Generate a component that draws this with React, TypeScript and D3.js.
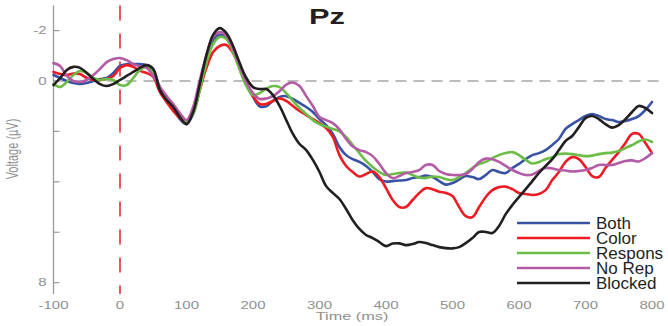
import React from "react";
import * as d3 from "d3";

// ERP time axis (ms), sampled every 10 ms
const times: number[] = d3.range(-100, 801, 10);

// Amplitudes in µV at Pz for each condition
const both: number[] = [
  -0.24, -0.12, 0, 0.08, 0.12, 0.08, 0, -0.08, -0.12, -0.32,
  -0.6, -0.67, -0.67, -0.67, -0.63, -0.4, 0.24, 0.63, 1.07, 1.51,
  1.71, 1.31, 0.28, -0.83, -1.63, -1.83, -1.75, -1.23, -0.52, 0.16,
  0.63, 1.0, 1.0, 0.79, 0.63, 0.6, 0.71, 0.87, 1.03, 1.23,
  1.51, 1.75, 2.1, 2.62, 2.94, 3.1, 3.21, 3.37, 3.61, 3.89,
  3.99, 3.97, 3.95, 3.93, 3.85, 3.81, 3.75, 3.81, 3.97, 4.11,
  4.05, 3.91, 3.77, 3.81, 3.89, 3.73, 3.53, 3.61, 3.65, 3.45,
  3.29, 3.1, 2.94, 2.86, 2.74, 2.54, 2.3, 1.9, 1.71, 1.55,
  1.39, 1.31, 1.39, 1.51, 1.55, 1.63, 1.59, 1.51, 1.39, 1.15,
  0.83,
];

const color: number[] = [
  -0.36, -0.28, -0.24, -0.3, -0.28, -0.12, -0.04, -0.04, -0.08, -0.2,
  -0.52, -0.63, -0.56, -0.4, -0.32, -0.16, 0.44, 0.83, 1.19, 1.47,
  1.63, 1.23, 0.36, -0.52, -1.15, -1.39, -1.43, -1.11, -0.52, 0.12,
  0.6, 0.91, 0.91, 0.79, 0.69, 0.79, 0.99, 1.19, 1.35, 1.51,
  1.67, 1.87, 2.22, 2.94, 3.37, 3.61, 3.79, 3.69, 3.59, 3.81,
  4.25, 4.72, 5.0, 5.0, 4.72, 4.44, 4.25, 4.29, 4.39, 4.44,
  4.56, 5.0, 5.36, 5.4, 5.0, 4.6, 4.33, 4.21, 4.19, 4.29,
  4.44, 4.48, 4.52, 4.48, 4.33, 3.93, 3.61, 3.21, 3.02, 3.1,
  3.41, 3.77, 3.81, 3.45, 3.13, 2.82, 2.46, 2.1, 2.1, 2.46,
  2.86,
];

const respons: number[] = [
  0.12, 0.24, 0.04, -0.24, -0.4, -0.32, -0.12, -0.04, -0.08, -0.04,
  0.16, 0.16, -0.12, -0.44, -0.56, -0.36, 0.28, 0.63, 0.99, 1.35,
  1.59, 1.31, 0.36, -0.71, -1.47, -1.75, -1.67, -1.15, -0.44, 0.2,
  0.56, 0.48, 0.3, 0.2, 0.24, 0.48, 0.79, 1.07, 1.31, 1.55,
  1.71, 1.81, 1.9, 2.0, 2.22, 2.54, 2.86, 3.17, 3.41, 3.61,
  3.73, 3.69, 3.65, 3.63, 3.73, 3.83, 3.85, 3.79, 3.81, 3.89,
  3.93, 3.81, 3.65, 3.45, 3.29, 3.21, 3.06, 2.94, 2.86, 2.82,
  2.94, 3.13, 3.27, 3.21, 3.1, 3.02, 2.9, 2.88, 2.9, 2.94,
  2.98, 2.96, 2.9, 2.86, 2.84, 2.78, 2.66, 2.54, 2.4, 2.32,
  2.42,
];

const noRep: number[] = [
  -0.71, -0.6, -0.2, 0, 0.04, -0.04, -0.24, -0.48, -0.75, -0.87,
  -0.91, -0.83, -0.67, -0.58, -0.52, -0.2, 0.24, 0.6, 0.91, 1.27,
  1.55, 1.03, -0.04, -1.03, -1.75, -1.94, -1.79, -1.27, -0.6, 0.04,
  0.48, 0.71, 0.69, 0.6, 0.4, 0.14, 0.06, 0.2, 0.6, 0.99,
  1.43, 1.55, 1.67, 1.92, 2.3, 2.6, 2.74, 2.82, 2.98, 3.29,
  3.65, 3.85, 3.77, 3.65, 3.61, 3.53, 3.33, 3.33, 3.57, 3.69,
  3.73, 3.73, 3.69, 3.49, 3.21, 3.08, 3.1, 3.21, 3.37, 3.53,
  3.65, 3.73, 3.71, 3.57, 3.45, 3.47, 3.53, 3.55, 3.59, 3.57,
  3.53, 3.45, 3.33, 3.33, 3.33, 3.25, 3.17, 3.15, 3.19, 3.06,
  2.86,
];

const blocked: number[] = [
  0.16, -0.12, -0.44, -0.56, -0.52, -0.32, -0.08, 0.12, 0.2, 0.12,
  -0.04, -0.2, -0.36, -0.52, -0.63, -0.48, 0.36, 0.75, 1.03, 1.43,
  1.71, 1.23, 0.12, -1.03, -1.83, -2.1, -1.9, -1.39, -0.71, -0.12,
  0.24, 0.32, 0.32, 0.56, 0.99, 1.55, 2.1, 2.5, 2.74, 3.13,
  3.61, 4.17, 4.44, 4.68, 5.08, 5.52, 5.87, 6.11, 6.23, 6.39,
  6.55, 6.45, 6.44, 6.51, 6.47, 6.39, 6.43, 6.51, 6.59, 6.63,
  6.64, 6.59, 6.43, 6.23, 5.99, 5.99, 6.03, 5.75, 5.28, 4.92,
  4.6, 4.29, 3.97, 3.65, 3.37, 3.1, 2.74, 2.38, 2.18, 1.83,
  1.47, 1.39, 1.51, 1.71, 1.85, 1.75, 1.51, 1.23, 0.99, 1.07,
  1.27,
];

const seriesNames: string[] = ["Both", "Color", "Respons", "No Rep", "Blocked"];
const seriesColors: string[] = ["#3853a4", "#ed1c24", "#6cbd45", "#b45ba6", "#231f20"];
const seriesValues: number[][] = [both, color, respons, noRep, blocked];

const xTicks: number[] = [-100, 0, 100, 200, 300, 400, 500, 600, 700, 800];
const yTicks: number[] = [-2, 0, 2, 4, 6, 8];
const yLabelled: number[] = [-2, 0, 8];

const W = 668;
const H = 326;
const FONT = "'Liberation Sans', Arial, sans-serif";
const GREY = "#8f8f8f";
// axis annotations use a horizontally widened face
const WIDE = 1.5;

export default function App() {
  const x = d3.scaleLinear().domain([-100, 800]).range([53.5, 652]);
  // negative voltage plotted upward
  const y = d3.scaleLinear().domain([-3, 8.45]).range([5.4, 294]);

  const line = d3
    .line<number>()
    .x((_, i) => x(times[i]))
    .y((v) => y(v))
    .curve(d3.curveCatmullRom.alpha(0.5));

  const axisX = x(-100);
  const legendX0 = 517;
  const legendX1 = 590;
  const legendY0 = 223;
  const legendStep = 15;

  return (
    <svg
      width={W}
      height={H}
      style={{ position: "absolute", left: 0, top: 0, background: "#fff" }}
      fontFamily={FONT}
    >
      {/* zero reference */}
      <line
        x1={axisX}
        x2={660}
        y1={y(0)}
        y2={y(0)}
        stroke="#a8a8a8"
        strokeWidth={1.5}
        strokeDasharray="11 7"
      />
      {/* stimulus onset */}
      <line
        x1={x(0)}
        x2={x(0)}
        y1={y(-3)}
        y2={y(8.45)}
        stroke="#e8202a"
        strokeWidth={1.5}
        strokeDasharray="15 13"
      />

      {/* y axis */}
      <line x1={axisX} x2={axisX} y1={y(-3)} y2={y(8.45)} stroke="#9a9a9a" strokeWidth={1.3} />
      {yTicks.map((t) => (
        <line key={t} x1={axisX} x2={axisX + 6} y1={y(t)} y2={y(t)} stroke="#9a9a9a" strokeWidth={1.2} />
      ))}
      {yLabelled.map((t) => (
        <text
          key={t}
          transform={`translate(${axisX - 7},${y(t)}) scale(${WIDE},1)`}
          dy="0.35em"
          textAnchor="end"
          fontSize={10}
          fill={GREY}
        >
          {t}
        </text>
      ))}
      <text
        transform={`translate(18,149) scale(${WIDE},1) rotate(-90)`}
        textAnchor="middle"
        fontSize={11}
        fill={GREY}
      >
        Voltage (µV)
      </text>

      {/* x tick labels */}
      {xTicks.map((t) => (
        <text
          key={t}
          transform={`translate(${x(t)},305) scale(${WIDE},1)`}
          dy="0.35em"
          textAnchor="middle"
          fontSize={10}
          fill={GREY}
        >
          {t}
        </text>
      ))}
      <text
        transform={`translate(352,316) scale(1.55,1)`}
        dy="0.35em"
        textAnchor="middle"
        fontSize={10.5}
        fill={GREY}
      >
        Time (ms)
      </text>

      {/* title */}
      <text
        transform="translate(327,24) scale(1.4,1)"
        textAnchor="middle"
        fontSize={22}
        fontWeight="bold"
        fill="#231f20"
      >
        Pz
      </text>

      {/* waveforms */}
      {seriesValues.map((vals, i) => (
        <path
          key={seriesNames[i]}
          d={line(vals) || ""}
          fill="none"
          stroke={seriesColors[i]}
          strokeWidth={2.6}
          strokeLinejoin="round"
          strokeLinecap="round"
        />
      ))}

      {/* legend */}
      {seriesNames.map((name, i) => (
        <g key={name}>
          <line
            x1={legendX0}
            x2={legendX1}
            y1={legendY0 + i * legendStep}
            y2={legendY0 + i * legendStep}
            stroke={seriesColors[i]}
            strokeWidth={2.6}
          />
          <text
            x={legendX1 + 6}
            y={legendY0 + i * legendStep}
            dy="0.36em"
            fontSize={17}
            fill="#231f20"
          >
            {name}
          </text>
        </g>
      ))}
    </svg>
  );
}
